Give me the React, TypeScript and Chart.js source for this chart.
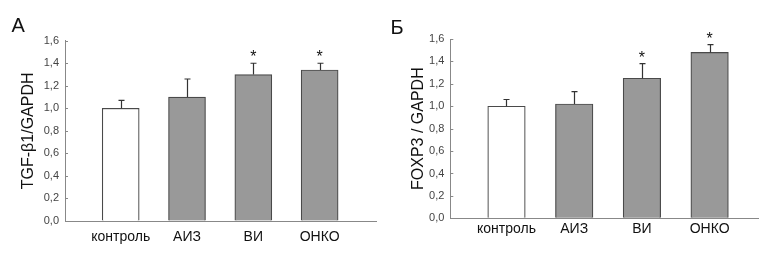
import React, { useEffect, useRef } from 'react';
import { Chart, registerables } from 'chart.js';

Chart.register(...registerables);

const categories = ['контроль', 'АИЗ', 'ВИ', 'ОНКО'];
const yTickLabels = ['0,0', '0,2', '0,4', '0,6', '0,8', '1,0', '1,2', '1,4', '1,6'];

const tgfValues = [1.0, 1.1, 1.3, 1.34];
const tgfErrors = [0.07, 0.16, 0.1, 0.06];
const tgfSignificant = [false, false, true, true];

const foxpValues = [1.0, 1.02, 1.25, 1.48];
const foxpErrors = [0.06, 0.11, 0.13, 0.07];
const foxpSignificant = [false, false, true, true];

const barFills = ['#ffffff', '#999999', '#999999', '#999999'];

const FONT = '"Liberation Sans", Arial, sans-serif';

type PanelProps = {
  letter: string;
  letterLeft: number;
  letterTop: number;
  left: number;
  yTitle: string;
  titleOffset: number;
  values: number[];
  errors: number[];
  significant: boolean[];
  xMin: number;
  xMax: number;
  areaLeft: number;
  areaRight: number;
  areaTop: number;
  areaBottom: number;
  barWidth: number;
  labelPad: number;
};

const W = 387;
const H = 262;

function Panel(p: PanelProps) {
  const ref = useRef<HTMLCanvasElement | null>(null);

  useEffect(() => {
    if (!ref.current) return;
    const overlay = {
      id: 'overlay',
      afterDatasetsDraw(chart: any) {
        const ctx = chart.ctx;
        const meta = chart.getDatasetMeta(0);
        const ys = chart.scales.y;
        ctx.save();
        ctx.strokeStyle = '#888888';
        ctx.lineWidth = 1;
        const ax = chart.chartArea.left;
        ys.ticks.forEach((t: any) => {
          const py = Math.round(ys.getPixelForValue(t.value)) + 0.5;
          ctx.beginPath();
          ctx.moveTo(ax, py);
          ctx.lineTo(ax + 3, py);
          ctx.stroke();
        });
        meta.data.forEach((el: any, i: number) => {
          const x = Math.round(el.x) + 0.5;
          const top = ys.getPixelForValue(p.values[i]);
          const et = ys.getPixelForValue(p.values[i] + p.errors[i]);
          ctx.strokeStyle = '#333333';
          ctx.lineWidth = 1.2;
          ctx.beginPath();
          ctx.moveTo(x, top);
          ctx.lineTo(x, et);
          ctx.moveTo(x - 3, et);
          ctx.lineTo(x + 3, et);
          ctx.stroke();
          if (p.significant[i]) {
            ctx.fillStyle = '#111111';
            ctx.font = `16px ${FONT}`;
            ctx.textAlign = 'center';
            ctx.textBaseline = 'alphabetic';
            ctx.fillText('*', el.x, et - 1);
          }
        });
        ctx.restore();
      },
    };

    const chart = new Chart(ref.current, {
      type: 'bar',
      data: {
        datasets: [
          {
            data: p.values.map((v, i) => ({ x: i, y: v })) as any,
            backgroundColor: barFills,
            borderColor: '#4a4a4a',
            borderWidth: 1.2,
            barThickness: p.barWidth,
          },
        ],
      },
      options: {
        responsive: false,
        animation: false,
        devicePixelRatio: 1,
        layout: {
          padding: { top: p.areaTop, right: W - p.areaRight, bottom: 0, left: 0 },
        },
        plugins: {
          legend: { display: false },
          tooltip: { enabled: false },
        },
        scales: {
          x: {
            type: 'linear',
            offset: false,
            bounds: 'ticks',
            min: p.xMin,
            max: p.xMax,
            afterBuildTicks: (scale: any) => {
              scale.ticks = categories.map((_, i) => ({ value: i }));
            },
            afterFit: (scale: any) => {
              scale.height = H - p.areaBottom;
            },
            grid: { display: true, offset: false, drawOnChartArea: false, drawTicks: false, color: 'rgba(0,0,0,0)' },
            border: { display: true, color: '#888888', width: 1 },
            ticks: {
              autoSkip: false,
              maxRotation: 0,
              padding: p.labelPad,
              color: '#111111',
              font: { family: FONT, size: 14 },
              callback: (v: any) => categories[Math.round(Number(v))] ?? '',
            },
          },
          y: {
            min: 0,
            max: 1.6,
            afterFit: (scale: any) => {
              scale.width = p.areaLeft;
            },
            grid: { display: true, drawOnChartArea: false, drawTicks: false, color: 'rgba(0,0,0,0)' },
            border: { display: true, color: '#888888', width: 1 },
            ticks: {
              stepSize: 0.2,
              padding: 6,
              color: '#444444',
              font: { family: FONT, size: 11 },
              callback: (_v: any, i: number) => yTickLabels[i],
            },
            title: {
              display: true,
              text: p.yTitle,
              color: '#111111',
              font: { family: FONT, size: 16 },
              padding: { top: p.titleOffset, bottom: 0 },
            },
          },
        },
      } as any,
      plugins: [overlay],
    });
    return () => chart.destroy();
  }, []);

  return (
    <div style={{ position: 'absolute', left: p.left, top: 0, width: W, height: H }}>
      <canvas ref={ref} width={W} height={H} style={{ display: 'block' }} />
      <div
        style={{
          position: 'absolute',
          left: p.letterLeft,
          top: p.letterTop,
          fontFamily: FONT,
          fontSize: 20,
          lineHeight: 1,
          color: '#111111',
        }}
      >
        {p.letter}
      </div>
    </div>
  );
}

export default function App() {
  return (
    <div style={{ position: 'absolute', left: 0, top: 0, width: 774, height: 262, background: '#ffffff' }}>
      <Panel
        letter="А"
        letterLeft={11.5}
        letterTop={15.4}
        left={0}
        yTitle="TGF-β1/GAPDH"
        titleOffset={19}
        values={tgfValues}
        errors={tgfErrors}
        significant={tgfSignificant}
        xMin={-0.84}
        xMax={3.85}
        areaLeft={65}
        areaRight={376}
        areaTop={40.7}
        areaBottom={221}
        barWidth={37}
        labelPad={7.5}
      />
      <Panel
        letter="Б"
        letterLeft={3.5}
        letterTop={17.4}
        left={387}
        yTitle="FOXP3 / GAPDH"
        titleOffset={22}
        values={foxpValues}
        errors={foxpErrors}
        significant={foxpSignificant}
        xMin={-0.83}
        xMax={3.725}
        areaLeft={63.3}
        areaRight={371.7}
        areaTop={39}
        areaBottom={218.3}
        barWidth={37.5}
        labelPad={2.5}
      />
    </div>
  );
}
